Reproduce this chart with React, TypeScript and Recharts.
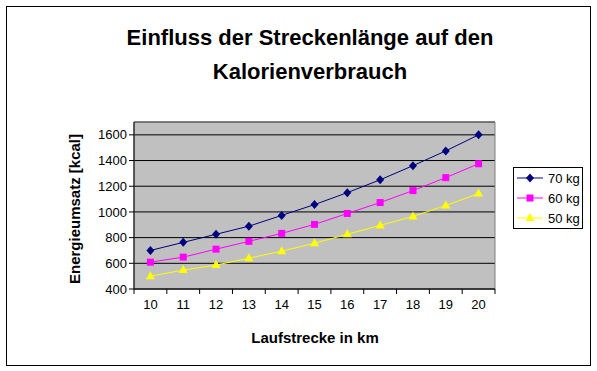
import {
  LineChart,
  Line,
  XAxis,
  YAxis,
  CartesianGrid,
  ReferenceArea,
} from "recharts";

const categories = [10, 11, 12, 13, 14, 15, 16, 17, 18, 19, 20];
const kg70 = [700, 763, 826, 889, 973, 1057, 1150, 1250, 1360, 1475, 1600];
const kg60 = [609, 648, 710, 771, 833, 903, 988, 1073, 1166, 1267, 1375];
const kg50 = [500, 547, 586, 640, 694, 756, 826, 895, 965, 1050, 1143];
const yTicks = [400, 600, 800, 1000, 1200, 1400, 1600];
// tick marks sit between the categories, like in Excel
const boundaryTicks = [9.5, 10.5, 11.5, 12.5, 13.5, 14.5, 15.5, 16.5, 17.5, 18.5, 19.5, 20.5];

const seriesInfo = [
  { key: "kg70", name: "70 kg", color: "#000080", shape: "diamond" },
  { key: "kg60", name: "60 kg", color: "#ff00ff", shape: "square" },
  { key: "kg50", name: "50 kg", color: "#ffff00", shape: "triangle" },
];

const data = categories.map((km, i) => ({
  km,
  kg70: kg70[i],
  kg60: kg60[i],
  kg50: kg50[i],
}));

const FONT = '"Liberation Sans", Arial, sans-serif';

function markerPath(shape: string, x: number, y: number) {
  if (shape === "diamond") {
    return `M${x},${y - 4.5}L${x + 4},${y}L${x},${y + 4.5}L${x - 4},${y}Z`;
  }
  if (shape === "square") {
    return `M${x - 3.5},${y - 3.5}h7v7h-7Z`;
  }
  return `M${x},${y - 5}L${x + 4.5},${y + 3}L${x - 4.5},${y + 3}Z`;
}

function makeDot(shape: string, color: string) {
  return (p: any) => {
    if (p.cx == null || p.cy == null) return <g key={p.index} />;
    return <path key={p.index} d={markerPath(shape, p.cx, p.cy)} fill={color} stroke="none" />;
  };
}

// label drawn in the middle of each category slot (right of its boundary tick)
function CategoryTick(props: any) {
  const { x, y, index, width } = props;
  if (index >= categories.length) return <g />;
  const half = (width ?? 361) / categories.length / 2;
  return (
    <text
      x={x + half}
      y={y}
      dy="0.71em"
      textAnchor="middle"
      fill="#000"
      fontSize={13}
      fontFamily={FONT}
    >
      {categories[index]}
    </text>
  );
}

function LegendBox() {
  return (
    <div style={legendStyle}>
      {seriesInfo.map((s) => (
        <div key={s.key} style={{ display: "flex", alignItems: "center", height: 20 }}>
          <svg width={27} height={12} style={{ display: "block", flex: "none" }}>
            <line x1={0} y1={6} x2={26} y2={6} stroke={s.color} strokeWidth={1} />
            <path d={markerPath(s.shape, 13, 6)} fill={s.color} />
          </svg>
          <span style={{ marginLeft: 4 }}>{s.name}</span>
        </div>
      ))}
    </div>
  );
}

export default function App() {
  return (
    <div style={pageStyle}>
      <div style={frameStyle} />
      <div style={{ ...titleStyle, top: 24 }}>Einfluss der Streckenlänge auf den</div>
      <div style={{ ...titleStyle, top: 58 }}>Kalorienverbrauch</div>
      <div style={yTitleStyle}>Energieumsatz [kcal]</div>
      <div style={xTitleStyle}>Laufstrecke in km</div>
      <div style={{ position: "absolute", left: 0, top: 0 }}>
        <LineChart
          width={597}
          height={371}
          data={data}
          margin={{ top: 122, right: 102, bottom: 52, left: 74 }}
        >
          <CartesianGrid
            vertical={false}
            horizontal
            stroke="#000"
            fill="#c0c0c0"
            fillOpacity={1}
          />
          <XAxis
            dataKey="km"
            type="number"
            domain={[9.5, 20.5]}
            ticks={boundaryTicks}
            interval={0}
            height={30}
            tickSize={5}
            tickMargin={6}
            axisLine={{ stroke: "#000" }}
            tickLine={{ stroke: "#000" }}
            tick={<CategoryTick />}
            allowDataOverflow
          />
          <YAxis
            width={60}
            domain={[400, 1700]}
            ticks={yTicks}
            interval={0}
            tickSize={5}
            tickMargin={2}
            axisLine={{ stroke: "#000" }}
            tickLine={{ stroke: "#000" }}
            tick={{ fill: "#000", fontSize: 13, fontFamily: FONT }}
            allowDataOverflow
          />
          <ReferenceArea
            x1={9.5}
            x2={20.5}
            y1={400}
            y2={1700}
            fill="none"
            stroke="#808080"
            ifOverflow="visible"
          />
          {seriesInfo.map((s) => (
            <Line
              key={s.key}
              dataKey={s.key}
              name={s.name}
              stroke={s.color}
              strokeWidth={1}
              dot={makeDot(s.shape, s.color)}
              activeDot={false}
              isAnimationActive={false}
            />
          ))}
        </LineChart>
      </div>
      <div style={{ position: "absolute", left: 513, top: 167 }}>
        <LegendBox />
      </div>
    </div>
  );
}

const pageStyle: React.CSSProperties = {
  position: "absolute",
  left: 0,
  top: 0,
  width: 597,
  height: 371,
  background: "#fff",
  fontFamily: FONT,
  color: "#000",
};

const frameStyle: React.CSSProperties = {
  position: "absolute",
  left: 6,
  top: 6,
  width: 585,
  height: 360,
  boxSizing: "border-box",
  border: "1px solid #000",
};

const titleStyle: React.CSSProperties = {
  position: "absolute",
  left: 110,
  width: 400,
  textAlign: "center",
  fontSize: 22,
  fontWeight: 700,
  lineHeight: "28px",
  whiteSpace: "nowrap",
};

const yTitleStyle: React.CSSProperties = {
  position: "absolute",
  left: 75 - 100,
  top: 209 - 10,
  width: 200,
  height: 20,
  lineHeight: "20px",
  textAlign: "center",
  fontSize: 15,
  fontWeight: 700,
  transform: "rotate(-90deg)",
  whiteSpace: "nowrap",
};

const xTitleStyle: React.CSSProperties = {
  position: "absolute",
  left: 215,
  top: 328,
  width: 200,
  lineHeight: "20px",
  textAlign: "center",
  fontSize: 15,
  fontWeight: 700,
  whiteSpace: "nowrap",
};

const legendStyle: React.CSSProperties = {
  border: "1px solid #000",
  background: "#fff",
  padding: "0 0 0 3px",
  fontSize: 13,
  fontFamily: FONT,
  color: "#000",
  width: 70,
  height: 62,
  boxSizing: "border-box",
  whiteSpace: "nowrap",
};
